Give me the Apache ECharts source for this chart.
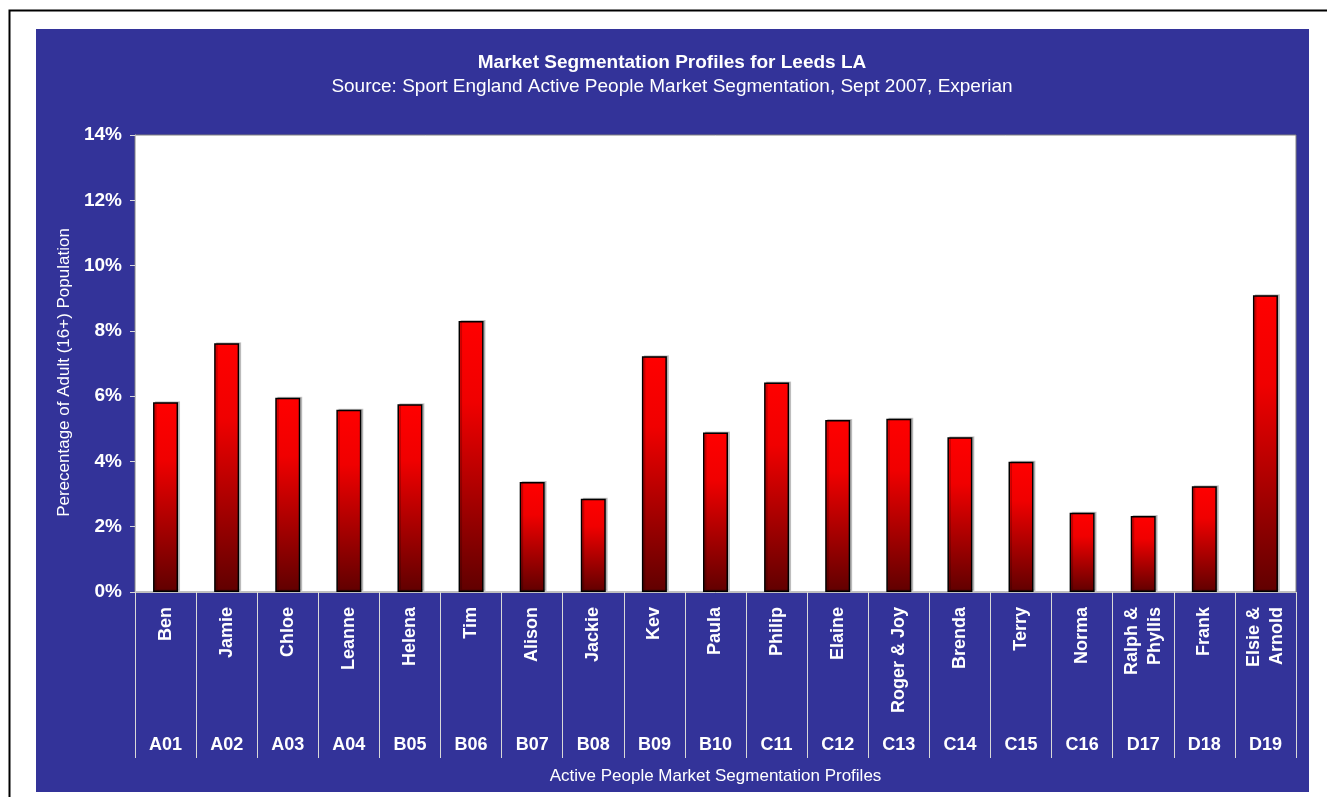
<!DOCTYPE html>
<html>
<head>
<meta charset="utf-8">
<script src="https://cdn.jsdelivr.net/npm/echarts@6/dist/echarts.min.js"></script>
<style>
html,body{margin:0;padding:0;background:#fff;}
#chart{width:1327px;height:797px;}
</style>
</head>
<body>
<div id="chart"></div>
<script>
const names = ['Ben','Jamie','Chloe','Leanne','Helena','Tim','Alison','Jackie','Kev','Paula','Philip','Elaine','Roger & Joy','Brenda','Terry','Norma','Ralph &\nPhyllis','Frank','Elsie &\nArnold'];
const codes = ['A01','A02','A03','A04','B05','B06','B07','B08','B09','B10','C11','C12','C13','C14','C15','C16','D17','D18','D19'];
const values = [5.81,7.62,5.95,5.58,5.75,8.30,3.37,2.86,7.22,4.89,6.42,5.27,5.31,4.74,3.99,2.43,2.33,3.24,9.09];
const titleText = 'Market Segmentation Profiles for Leeds LA';
const subtitleText = 'Source: Sport England Active People Market Segmentation, Sept 2007, Experian';
const yName = 'Perecentage of Adult (16+) Population';
const xName = 'Active People Market Segmentation Profiles';

const FONT = 'Liberation Sans, Arial, sans-serif';
const chart = echarts.init(document.getElementById('chart'), null, {renderer:'canvas'});
chart.setOption({
  animation:false,
  backgroundColor:'#ffffff',
  textStyle:{fontFamily:FONT},
  graphic:[
    {type:'rect', z:-100, silent:true, shape:{x:36,y:29,width:1273,height:763}, style:{fill:'#333399'}},
    {type:'rect', z:-99, silent:true, shape:{x:9.5,y:10.5,width:2000,height:2000}, style:{fill:null, stroke:'#000', lineWidth:2}}
  ],
  title:{
    text:titleText, subtext:subtitleText,
    left:672, top:53, textAlign:'center', padding:0, itemGap:5,
    textStyle:{color:'#fff', fontWeight:'bold', fontSize:19, fontFamily:FONT},
    subtextStyle:{color:'#fff', fontSize:19, fontFamily:FONT}
  },
  grid:{left:135, right:31, top:135, bottom:205, show:true, backgroundColor:'#ffffff', borderColor:'#808080', borderWidth:1},
  xAxis:[
    {type:'category', data:names, position:'bottom',
     axisLine:{show:true, lineStyle:{color:'#c0c0c0', width:1}},
     axisTick:{show:true, interval:0, length:166, lineStyle:{color:'#d8d8d8', width:1}},
     axisLabel:{interval:0, rotate:90, margin:15, color:'#fff', fontWeight:'bold', fontSize:18, lineHeight:23, fontFamily:FONT},
     splitLine:{show:false}},
    {type:'category', data:codes, position:'bottom', offset:140,
     axisLine:{show:false}, axisTick:{show:false},
     axisLabel:{interval:0, margin:4, color:'#fff', fontWeight:'bold', fontSize:18, fontFamily:FONT},
     name:xName, nameLocation:'middle', nameGap:36,
     nameTextStyle:{color:'#fff', fontSize:17, fontFamily:FONT}}
  ],
  yAxis:{
    type:'value', min:0, max:14, interval:2,
    axisLine:{show:true, lineStyle:{color:'#c0c0c0'}},
    axisTick:{show:true, length:5, lineStyle:{color:'#d8d8d8'}},
    axisLabel:{formatter:'{value}%', color:'#fff', fontWeight:'bold', fontSize:19, margin:13, fontFamily:FONT},
    splitLine:{show:false},
    name:yName, nameLocation:'middle', nameGap:58,
    nameTextStyle:{color:'#fff', fontSize:17, fontFamily:FONT, padding:[0,18,0,0]}
  },
  series:[{
    type:'bar', data:values, xAxisIndex:0, barWidth:25,
    itemStyle:{
      color:new echarts.graphic.LinearGradient(0,0,0,1,[
        {offset:0,color:'#ff0000'},{offset:0.3,color:'#f00000'},{offset:1,color:'#600000'}]),
      borderColor:'#000', borderWidth:1.5,
      shadowColor:'rgba(0,0,0,0.2)', shadowOffsetX:2, shadowOffsetY:-1, shadowBlur:0
    }
  }]
});
</script>
</body>
</html>
